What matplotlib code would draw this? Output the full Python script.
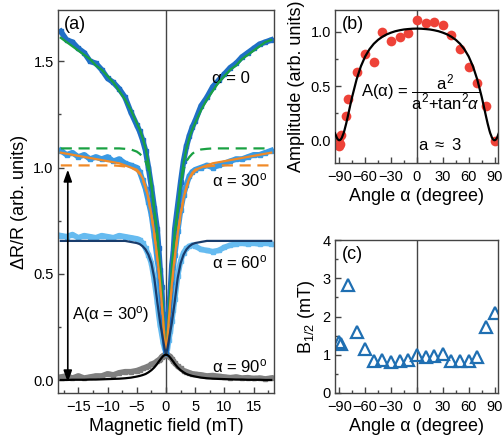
import matplotlib
matplotlib.use("Agg")
import matplotlib.pyplot as plt
from matplotlib.ticker import MultipleLocator, FormatStrFormatter

plt.rcParams["font.family"] = ["Liberation Sans", "DejaVu Sans"]
plt.rcParams["mathtext.fontset"] = "custom"
plt.rcParams["mathtext.rm"] = "Liberation Sans"
plt.rcParams["mathtext.it"] = "Liberation Sans:italic"
plt.rcParams["mathtext.bf"] = "Liberation Sans:bold"

# ---- panel (a): magnetoresistance curves ----
field_mT = [-18, -17, -16, -15, -14, -13, -12, -11, -10, -9, -8, -7, -6, -5,
            -4.5, -4, -3.5, -3, -2.5, -2, -1.5,
            -1.25, -1, -0.75, -0.5, -0.25,
            0,
            0.25, 0.5, 0.75, 1, 1.25,
            1.5, 2, 2.5, 3, 3.5, 4, 4.5,
            5, 6, 7, 8, 9, 10, 11, 12, 13, 14, 15, 16, 17, 18]

data_a0 = [1.64, 1.60, 1.59, 1.56, 1.54, 1.50, 1.49, 1.46, 1.42, 1.40, 1.37, 1.33, 1.26, 1.20,
           1.17, 1.13, 1.08, 1.00, 0.91, 0.81, 0.71,
           0.62, 0.52, 0.44, 0.31, 0.20,
           0.13,
           0.19, 0.33, 0.42, 0.54, 0.60,
           0.71, 0.82, 0.93, 1.03, 1.10, 1.15, 1.19,
           1.22, 1.29, 1.33, 1.38, 1.41, 1.44, 1.47, 1.49, 1.52, 1.54, 1.56, 1.58, 1.59, 1.60]
data_a30 = [1.08, 1.06, 1.07, 1.05, 1.06, 1.04, 1.05, 1.04, 1.05, 1.03, 1.04, 1.02, 1.01, 1.00,
            0.98, 0.94, 0.90, 0.84, 0.78, 0.68, 0.57,
            0.52, 0.44, 0.37, 0.28, 0.19,
            0.13,
            0.19, 0.30, 0.38, 0.46, 0.53,
            0.59, 0.70, 0.80, 0.87, 0.92, 0.96, 0.98,
            0.99, 1.00, 1.01, 1.00, 1.01, 1.02, 1.03, 1.04, 1.04, 1.05, 1.06, 1.06, 1.07, 1.08]
data_a60 = [0.68, 0.675, 0.685, 0.67, 0.68, 0.675, 0.67, 0.68, 0.675, 0.67, 0.68, 0.675, 0.67, 0.665,
            0.66, 0.645, 0.62, 0.59, 0.55, 0.47, 0.37,
            0.31, 0.26, 0.22, 0.18, 0.15,
            0.13,
            0.15, 0.19, 0.23, 0.28, 0.33,
            0.38, 0.49, 0.56, 0.60, 0.62, 0.63, 0.635,
            0.63, 0.615, 0.61, 0.605, 0.61, 0.625, 0.635, 0.64, 0.645, 0.64, 0.645, 0.64, 0.645, 0.64]
data_a90 = [0.015, 0.02, 0.01, 0.02, 0.01, 0.015, 0.02, 0.02, 0.03, 0.025, 0.035, 0.04, 0.04, 0.045,
            0.05, 0.055, 0.06, 0.065, 0.075, 0.08, 0.09,
            0.095, 0.10, 0.11, 0.115, 0.12,
            0.125,
            0.12, 0.115, 0.11, 0.10, 0.09,
            0.08, 0.065, 0.055, 0.045, 0.04, 0.035, 0.03,
            0.028, 0.025, 0.02, 0.022, 0.018, 0.015, 0.012, 0.015, 0.01, 0.012, 0.008, 0.01, 0.006, 0.01]

fit_a0 = [1.61, 1.59, 1.57, 1.55, 1.53, 1.51, 1.48, 1.46, 1.43, 1.40, 1.36, 1.32, 1.27, 1.21,
          1.18, 1.14, 1.09, 1.02, 0.92, 0.80, 0.70,
          0.61, 0.53, 0.43, 0.32, 0.21,
          0.12,
          0.21, 0.32, 0.43, 0.53, 0.61,
          0.70, 0.80, 0.92, 1.02, 1.09, 1.14, 1.18,
          1.21, 1.27, 1.32, 1.36, 1.40, 1.43, 1.46, 1.48, 1.51, 1.53, 1.55, 1.57, 1.59, 1.60]
dash_a0 = [1.09, 1.09, 1.09, 1.09, 1.09, 1.09, 1.09, 1.09, 1.09, 1.09, 1.09, 1.088, 1.085, 1.075,
           1.065, 1.05, 1.03, 0.99, 0.92, 0.80, 0.67,
           0.59, 0.50, 0.41, 0.31, 0.21,
           0.12,
           0.21, 0.31, 0.41, 0.50, 0.59,
           0.67, 0.80, 0.92, 0.99, 1.03, 1.05, 1.065,
           1.075, 1.085, 1.088, 1.09, 1.09, 1.09, 1.09, 1.09, 1.09, 1.09, 1.09, 1.09, 1.09, 1.09]
fit_a30 = [1.07, 1.065, 1.06, 1.055, 1.05, 1.045, 1.04, 1.035, 1.03, 1.025, 1.02, 1.01, 1.00, 0.99,
           0.975, 0.95, 0.91, 0.855, 0.78, 0.69, 0.58,
           0.52, 0.45, 0.37, 0.29, 0.20,
           0.12,
           0.20, 0.29, 0.37, 0.45, 0.52,
           0.58, 0.69, 0.78, 0.855, 0.91, 0.95, 0.975,
           0.99, 1.00, 1.01, 1.02, 1.025, 1.03, 1.035, 1.04, 1.045, 1.05, 1.055, 1.06, 1.065, 1.07]
dash_a30 = [1.01, 1.01, 1.01, 1.01, 1.01, 1.01, 1.01, 1.01, 1.01, 1.01, 1.008, 1.005, 1.00, 0.985,
            0.97, 0.945, 0.905, 0.85, 0.775, 0.685, 0.575,
            0.515, 0.445, 0.365, 0.285, 0.20,
            0.12,
            0.20, 0.285, 0.365, 0.445, 0.515,
            0.575, 0.685, 0.775, 0.85, 0.905, 0.945, 0.97,
            0.985, 1.00, 1.005, 1.008, 1.01, 1.01, 1.01, 1.01, 1.01, 1.01, 1.01, 1.01, 1.01, 1.01]
fit_a60 = [0.655, 0.655, 0.655, 0.655, 0.655, 0.655, 0.655, 0.655, 0.655, 0.655, 0.655, 0.655, 0.65, 0.645,
           0.64, 0.63, 0.615, 0.59, 0.55, 0.48, 0.37,
           0.32, 0.27, 0.23, 0.19, 0.15,
           0.12,
           0.15, 0.19, 0.23, 0.27, 0.32,
           0.37, 0.48, 0.55, 0.59, 0.615, 0.63, 0.64,
           0.645, 0.65, 0.655, 0.655, 0.655, 0.655, 0.655, 0.655, 0.655, 0.655, 0.655, 0.655, 0.655, 0.655]
fit_a90 = [0.001, 0.001, 0.002, 0.002, 0.002, 0.003, 0.003, 0.004, 0.005, 0.006, 0.007, 0.009, 0.012, 0.017,
           0.02, 0.024, 0.029, 0.037, 0.047, 0.06, 0.077,
           0.087, 0.096, 0.105, 0.113, 0.118,
           0.12,
           0.118, 0.113, 0.105, 0.096, 0.087,
           0.077, 0.06, 0.047, 0.037, 0.029, 0.024, 0.02,
           0.017, 0.012, 0.009, 0.007, 0.006, 0.005, 0.004, 0.003, 0.003, 0.002, 0.002, 0.002, 0.001, 0.001]

# ---- panel (b): amplitude vs angle ----
amp_angle = [-90, -90, -89, -88, -82, -80, -70, -60, -50, -40, -30, -20, -10,
             0, 10, 20, 30, 40, 50, 60, 70, 80, 90]
amp_value = [-0.05, 0.02, -0.03, 0.05, 0.22, 0.38, 0.63, 0.80, 0.72, 1.00, 0.92, 0.95, 0.99,
             1.11, 1.08, 1.09, 1.06, 0.97, 0.84, 0.68, 0.53, 0.32, -0.01]
amp_fit_angle = [-95, -93, -92, -91, -90, -89, -88, -87, -86, -85, -84, -82, -80, -77, -75,
                 -70, -65, -60, -55, -50, -45, -40, -35, -30, -25, -20, -15, -10, -5,
                 0, 5, 10, 15, 20, 25, 30, 35, 40, 45, 50, 55, 60, 65, 70,
                 75, 77, 80, 82, 84, 85, 86, 87, 88, 89, 90, 91, 92, 93, 95]
amp_fit_value = [0.066, 0.025, 0.011, 0.003, 0.0, 0.003, 0.011, 0.025, 0.046, 0.066, 0.093, 0.155,
                 0.225, 0.334, 0.404, 0.560, 0.682, 0.773, 0.840, 0.890, 0.927, 0.955, 0.977,
                 0.993, 1.006, 1.015, 1.022, 1.026, 1.029, 1.03,
                 1.029, 1.026, 1.022, 1.015, 1.006, 0.993, 0.977, 0.955, 0.927, 0.890, 0.840,
                 0.773, 0.682, 0.560, 0.404, 0.334, 0.225, 0.155, 0.093, 0.066, 0.046, 0.025,
                 0.011, 0.003, 0.0, 0.003, 0.011, 0.025, 0.066]

# ---- panel (c): half-width vs angle ----
b_angle = [-90, -88, -80, -70, -60, -50, -40, -30, -20, -10, 0,
           10, 20, 30, 40, 50, 60, 70, 80, 90]
b_half = [1.33, 1.27, 2.82, 1.60, 1.16, 0.83, 0.87, 0.81, 0.83, 0.87, 0.99,
          0.93, 0.96, 1.01, 0.83, 0.83, 0.83, 0.93, 1.73, 2.10]

SPINE = "#444444"
LABEL_FS = 13
TICK_FS = 10.5
NOTE_FS = 12


def style_axes(ax):
    for side in ax.spines.values():
        side.set_color(SPINE)
        side.set_linewidth(1.0)
    ax.tick_params(which="both", direction="in", top=False, right=False,
                   colors=SPINE, labelcolor="black", labelsize=TICK_FS)
    ax.tick_params(which="major", length=4, width=1)
    ax.tick_params(which="minor", length=2.5, width=1)
    ax.tick_params(axis="x", pad=5)
    ax.tick_params(axis="y", pad=3)
    ax.axvline(0, color=SPINE, lw=1, zorder=1)


fig = plt.figure(figsize=(5.03, 4.43), dpi=100)
ax_a = fig.add_axes([0.115, 0.113, 0.430, 0.864])
ax_b = fig.add_axes([0.666, 0.632, 0.324, 0.345])
ax_c = fig.add_axes([0.666, 0.113, 0.324, 0.345])

# panel (a)
data_style = dict(lw=4, marker="s", ms=3.2, zorder=2)
ax_a.plot(field_mT, data_a90, color="#7f7f7f", **data_style)
ax_a.plot(field_mT, data_a60, color="#66bbf0", **data_style)
ax_a.plot(field_mT, data_a30, color="#3a9ae4", **data_style)
ax_a.plot(field_mT, data_a0, color="#1f6fc6", **data_style)

ax_a.plot(field_mT, dash_a0, color="#1aa142", lw=1.6, ls=(0, (5, 3)), zorder=3)
ax_a.plot(field_mT, dash_a30, color="#f08a28", lw=1.6, ls=(0, (5, 3)), zorder=3)
ax_a.plot(field_mT, fit_a0, color="#1aa142", lw=1.6, zorder=4)
ax_a.plot(field_mT, fit_a30, color="#f08a28", lw=1.6, zorder=4)
ax_a.plot(field_mT, fit_a60, color="#183c6c", lw=1.6, zorder=4)
ax_a.plot(field_mT, fit_a90, color="black", lw=1.6, zorder=4)

ax_a.set_xlim(-18.5, 18.5)
ax_a.set_ylim(-0.06, 1.74)
ax_a.xaxis.set_major_locator(MultipleLocator(5))
ax_a.xaxis.set_minor_locator(MultipleLocator(2.5))
ax_a.yaxis.set_major_locator(MultipleLocator(0.5))
ax_a.yaxis.set_minor_locator(MultipleLocator(0.25))
ax_a.yaxis.set_major_formatter(FormatStrFormatter("%.1f"))
style_axes(ax_a)
ax_a.set_xlabel("Magnetic field (mT)", fontsize=LABEL_FS, labelpad=3)
ax_a.set_ylabel("ΔR/R (arb. units)", fontsize=LABEL_FS)

ax_a.annotate("", xy=(-16.8, -0.01), xytext=(-16.8, 0.99),
              arrowprops=dict(arrowstyle="<|-|>,head_length=0.7,head_width=0.25",
                              color="black", lw=1.2, shrinkA=0, shrinkB=0), zorder=5)
ax_a.text(-16.0, 0.31, r"A(α = 30$^{\rm o}$)", fontsize=NOTE_FS, va="center", ha="left")
ax_a.text(7.8, 1.42, "α = 0", fontsize=NOTE_FS, va="center", ha="left")
ax_a.text(7.8, 0.94, r"α = 30$^{\rm o}$", fontsize=NOTE_FS, va="center", ha="left")
ax_a.text(7.8, 0.555, r"α = 60$^{\rm o}$", fontsize=NOTE_FS, va="center", ha="left")
ax_a.text(7.8, 0.063, r"α = 90$^{\rm o}$", fontsize=NOTE_FS, va="center", ha="left")
ax_a.text(0.03, 0.985, "(a)", transform=ax_a.transAxes, fontsize=LABEL_FS, va="top", ha="left")

# panel (b)
ax_b.plot(amp_angle, amp_value, "o", color="#ee4238", ms=7, mec="none", zorder=2)
ax_b.plot(amp_fit_angle, amp_fit_value, color="black", lw=1.6, zorder=3)
ax_b.set_xlim(-95, 94)
ax_b.set_ylim(-0.21, 1.2)
ax_b.xaxis.set_major_locator(MultipleLocator(30))
ax_b.xaxis.set_minor_locator(MultipleLocator(15))
ax_b.yaxis.set_major_locator(MultipleLocator(0.5))
ax_b.yaxis.set_minor_locator(MultipleLocator(0.25))
ax_b.yaxis.set_major_formatter(FormatStrFormatter("%.1f"))
style_axes(ax_b)
ax_b.set_xlabel("Angle α (degree)", fontsize=LABEL_FS, labelpad=3)
ax_b.set_ylabel("Amplitude (arb. units)", fontsize=LABEL_FS)
ax_b.text(-65, 0.44, r"A(α) = $\dfrac{\mathrm{a}^2}{\mathrm{a}^2\mathrm{+tan}^2\alpha}$",
          fontsize=NOTE_FS, va="center", ha="left")
ax_b.text(1, -0.04, r"a $\approx$ 3", fontsize=NOTE_FS, va="center", ha="left")
ax_b.text(0.04, 0.96, "(b)", transform=ax_b.transAxes, fontsize=LABEL_FS, va="top", ha="left")

# panel (c)
ax_c.plot(b_angle, b_half, "^", color="#1f6fb2", ms=8, mfc="none", mew=1.6, zorder=2)
ax_c.set_xlim(-95, 94)
ax_c.set_ylim(0, 4)
ax_c.xaxis.set_major_locator(MultipleLocator(30))
ax_c.xaxis.set_minor_locator(MultipleLocator(15))
ax_c.yaxis.set_major_locator(MultipleLocator(1))
ax_c.yaxis.set_minor_locator(MultipleLocator(0.5))
style_axes(ax_c)
ax_c.set_xlabel("Angle α (degree)", fontsize=LABEL_FS, labelpad=3)
ax_c.set_ylabel(r"B$_{1/2}$ (mT)", fontsize=LABEL_FS)
ax_c.text(0.04, 0.96, "(c)", transform=ax_c.transAxes, fontsize=LABEL_FS, va="top", ha="left")

fig.savefig("out.png", dpi=100)
